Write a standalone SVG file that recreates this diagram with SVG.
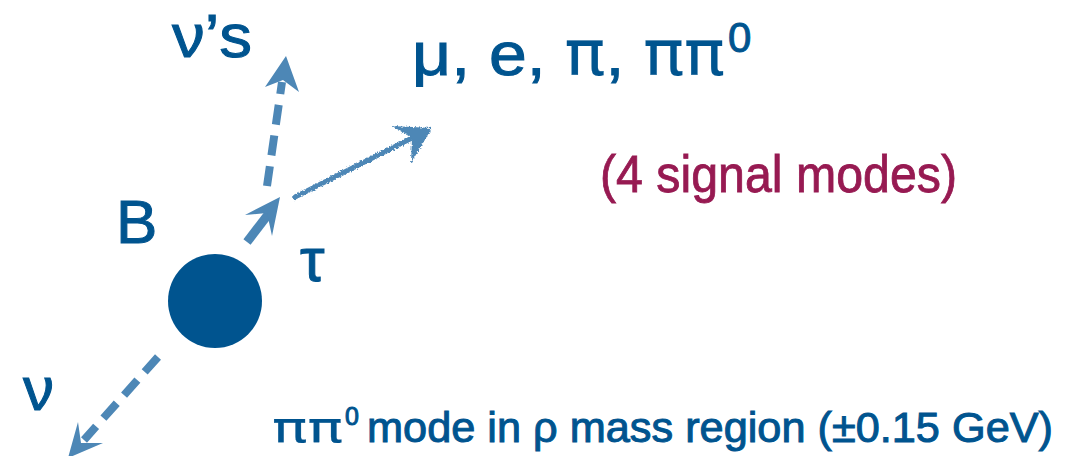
<svg xmlns="http://www.w3.org/2000/svg" width="1088" height="456" viewBox="0 0 1088 456">
  <style>
    .t { font-family: "Liberation Sans", Arial, sans-serif; fill: #00548F; stroke: #00548F; stroke-width: 1; }
    .p { font-family: "Liberation Sans", Arial, sans-serif; fill: #971A52; stroke: #971A52; stroke-width: 0.8; }
    .pi { font-family: "DejaVu Sans", sans-serif; }
    .thin { stroke-width: 0.2; }
    .dash { stroke: #4D87B6; stroke-width: 8; fill: none; stroke-dasharray: 20 11; }
    .solid { stroke: #4D87B6; stroke-width: 9; fill: none; }
    .head { fill: #4D87B6; }
  </style>
  <defs>
    <filter id="rough" x="-10%" y="-20%" width="120%" height="140%">
      <feTurbulence type="fractalNoise" baseFrequency="0.6" numOctaves="2" seed="3" result="n"/>
      <feDisplacementMap in="SourceGraphic" in2="n" scale="4" xChannelSelector="R" yChannelSelector="G"/>
    </filter>
  </defs>
  <rect width="1088" height="456" fill="#ffffff"/>

  <g id="B-meson">
    <circle cx="215" cy="301" r="47" fill="#00548F"/>
    <text class="t" x="116" y="243" font-size="62">B</text>
  </g>

  <g id="connectors">
    <line class="solid" x1="247" y1="242" x2="270" y2="212"/>
    <polygon class="head" points="280,197 245,215 267,213 272,236"/>
    <line class="dash" x1="267" y1="186" x2="282" y2="82"/>
    <polygon class="head" points="286,56 265,87 283,80 299,92"/>
    <g filter="url(#rough)">
      <line x1="293" y1="198" x2="414" y2="137" stroke="#4D87B6" stroke-width="5"/>
      <polygon class="head" points="432,128 392,126 412,138 411,163"/>
    </g>
    <line class="dash" x1="158" y1="357" x2="84" y2="440"/>
    <polygon class="head" points="68,458 78,422 81,443 103,443"/>
  </g>

  <g id="labels">
    <text class="t" x="300" y="281" font-size="62">τ</text>
    <text class="t" x="172" y="57" font-size="62" textLength="80" lengthAdjust="spacingAndGlyphs">ν’s</text>
    <text class="t" x="23" y="410" font-size="62">ν</text>
    <text class="t" x="412" y="75" font-size="62" textLength="313" lengthAdjust="spacingAndGlyphs">μ, e, <tspan class="pi thin">π</tspan>, <tspan class="pi thin">ππ</tspan></text>
    <text class="t" x="728" y="52" font-size="42">0</text>
    <text class="p" x="600" y="192" font-size="52" textLength="357" lengthAdjust="spacingAndGlyphs">(4 signal modes)</text>
    <text class="t pi thin" x="272" y="442" font-size="42" textLength="71" lengthAdjust="spacingAndGlyphs">ππ</text>
    <text class="t" x="345" y="425" font-size="25">0</text>
    <text class="t" x="367" y="442" font-size="42" textLength="686" lengthAdjust="spacingAndGlyphs">mode in ρ mass region (±0.15 GeV)</text>
  </g>
</svg>
